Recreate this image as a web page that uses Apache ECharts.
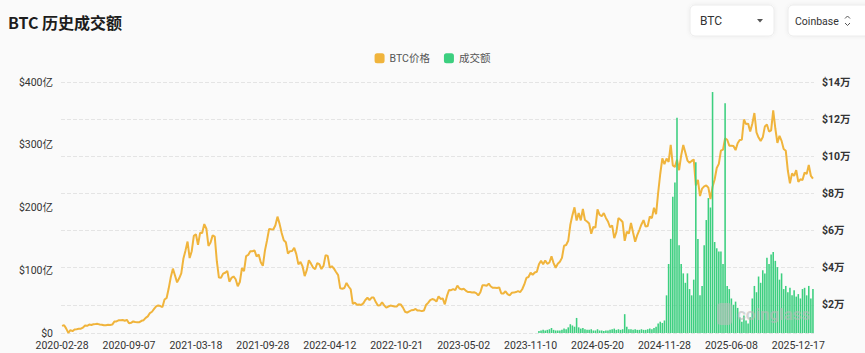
<!DOCTYPE html>
<html><head><meta charset="utf-8">
<script src="https://cdn.jsdelivr.net/npm/echarts@6/dist/echarts.min.js"></script>
<style>html,body{margin:0;padding:0;background:#fafafa}#c{width:865px;height:353px}</style>
</head><body><div id="c"></div>
<script>
// x-axis tick labels (shown dates)
const tickLabels = ['2020-02-28','2020-09-07','2021-03-18','2021-09-28','2022-04-12','2022-10-21',
  '2023-05-02','2023-11-10','2024-05-20','2024-11-28','2025-06-08','2025-12-17'];
const stepDays = 6, stepsPerTick = 32, tailSteps = 8;

// BTC price (USD), one value every 6 days from 2020-02-28
const btcPrice = [
  8690, 9080, 7200, 4900, 6400, 5880, 6740, 6870, 7100, 7140, 7760, 8900, 8750, 9380, 9170, 9580,
  9660, 9780, 9440, 9300, 9010, 9070, 9250, 9200, 9390, 11000, 11100, 11680, 11780, 11860, 11470, 11920,
  10130, 10330, 11080, 10740, 10620, 10670, 11420, 11750, 13030, 13800, 15590, 16300, 17800, 19160, 19700, 19360,
  18800, 22840, 23730, 28900, 35000, 39500, 35800, 32100, 34300, 36900, 44800, 49200, 54100, 45200, 48900, 57200,
  58000, 52300, 58800, 58700, 63500, 61000, 51700, 53600, 57400, 56700, 43500, 34700, 34600, 36800, 37300, 38300,
  32500, 34500, 35300, 33800, 30000, 32300, 39800, 38200, 46300, 46900, 48900, 48900, 49300, 46100, 47100, 43000,
  41000, 49200, 54700, 60900, 60700, 60600, 62900, 67500, 63600, 58700, 54800, 53700, 47600, 48900, 49000, 50700,
  47300, 41800, 43100, 40700, 35500, 38700, 44000, 42200, 40100, 39200, 42500, 41900, 39300, 41000, 46800, 46400,
  40100, 40800, 39500, 37700, 36000, 28900, 28700, 29100, 31800, 29900, 28400, 20500, 21200, 20100, 20200, 19900,
  20800, 22600, 23800, 22600, 23900, 23900, 21500, 19600, 19800, 21400, 19700, 18500, 19100, 19600, 19400, 19100,
  19160, 20300, 20150, 18500, 16300, 15800, 16450, 17100, 17220, 17800, 16900, 16900, 16620, 16950, 19900, 21100,
  22600, 23130, 22760, 21800, 24600, 23200, 23500, 20300, 24700, 28000, 27900, 28450, 27900, 30400, 28800, 28300,
  28700, 27700, 26900, 26900, 26700, 26800, 26350, 25100, 26800, 30500, 30600, 30300, 31400, 29900, 29200, 29200,
  29100, 29400, 26100, 26150, 27300, 25800, 25100, 26500, 26600, 26900, 27400, 26900, 28400, 31000, 34500, 35000,
  37300, 36200, 37400, 37800, 41900, 43700, 41900, 43900, 42100, 42800, 46100, 42500, 40000, 42100, 43200, 45300,
  51800, 52200, 54500, 63100, 68300, 72500, 65400, 69500, 65500, 71600, 65700, 64900, 63800, 58300, 62000, 61600,
  71400, 68500, 67700, 69400, 66800, 64900, 61800, 62800, 55900, 59200, 66700, 65800, 64600, 54500, 59400, 58400,
  64100, 59000, 54000, 57600, 60300, 63300, 65600, 62100, 62500, 67600, 66700, 72300, 68800, 80400, 90600, 98900,
  95700, 98800, 97000, 106100, 95100, 94300, 98100, 92500, 100500, 106100, 102000, 97700, 96500, 97500, 98300, 84300,
  87300, 78600, 82600, 83800, 84300, 83100, 77000, 83600, 87500, 93700, 95900, 103000, 103600, 109700, 108900, 105700,
  105700, 105500, 103300, 107000, 108800, 108900, 119800, 117300, 117600, 113300, 117500, 123300, 112900, 110100, 108300, 110200,
  116000, 117100, 113300, 114000, 124700, 115100, 107200, 111000, 108300, 103900, 103000, 92200, 85500, 90800, 89500, 92500,
  86200, 87600, 87200, 91200, 90500, 95300, 89500, 88000
];

// Trading volume (亿 USD), one value every 6 days from 2023-12-04
const volumeStartDate = '2023-12-04';
const volumeYi = [
  3, 4, 5, 4, 5, 6, 8, 5, 4, 4, 4, 5,
  7, 6, 9, 14, 12, 10, 24, 9, 7, 8, 6, 5,
  5, 6, 4, 4, 6, 4, 4, 3, 4, 4, 5, 6,
  7, 5, 6, 5, 6, 30, 10, 6, 6, 5, 6, 5,
  5, 6, 5, 5, 6, 7, 6, 8, 10, 15, 18, 16,
  20, 60, 110, 150, 217, 240, 343, 140, 110, 95, 80, 95,
  70, 60, 85, 272, 150, 60, 75, 140, 180, 215, 200, 384,
  145, 135, 130, 130, 110, 366, 75, 70, 55, 45, 50, 40,
  25, 18, 28, 20, 15, 25, 55, 75, 65, 90, 80, 100,
  95, 120, 110, 125, 129, 115, 105, 85, 95, 70, 75, 65,
  72, 60, 68, 58, 62, 55, 70, 72, 60, 75, 55, 70
];

function addDays(s, n) {
  const d = new Date(s + 'T00:00:00Z');
  d.setUTCDate(d.getUTCDate() + n);
  return d.toISOString().slice(0, 10);
}
const categories = [];
for (let i = 0; i < tickLabels.length - 1; i++)
  for (let j = 0; j < stepsPerTick; j++) categories.push(addDays(tickLabels[i], j * stepDays));
for (let j = 0; j < tailSteps; j++) categories.push(addDays(tickLabels[tickLabels.length - 1], j * stepDays));

const volStart = categories.indexOf(volumeStartDate);
const volumeData = categories.map((_, i) => i < volStart ? null : volumeYi[i - volStart]);

const FONT = "Roboto, 'Noto Sans CJK SC', sans-serif";
const chart = echarts.init(document.getElementById('c'), null, { renderer: 'svg' });
chart.setOption({
  animation: false,
  backgroundColor: '#fafafa',
  textStyle: { fontFamily: FONT },
  title: {
    text: 'BTC 历史成交额', left: 3, top: 9,
    textStyle: { fontSize: 16, fontWeight: 'bold', color: '#1d1d1d', fontFamily: "'Noto Sans CJK SC', sans-serif" }
  },
  legend: {
    data: ['BTC价格', '成交额'], top: 48, left: 'center',
    itemWidth: 10, itemHeight: 10, itemGap: 14, icon: 'roundRect',
    textStyle: { color: '#555', fontSize: 10.5, fontFamily: FONT }
  },
  grid: { left: 61, right: 51, top: 82, bottom: 20 },
  xAxis: {
    type: 'category', data: categories,
    axisLine: { show: false }, axisTick: { show: false },
    axisLabel: {
      interval: (idx) => tickLabels.includes(categories[idx]),
      color: '#333', fontSize: 10.5, margin: 7
    }
  },
  yAxis: [
    {
      type: 'value', position: 'left', min: 0, max: 400, interval: 100,
      splitLine: { show: false }, axisLine: { show: false }, axisTick: { show: false },
      axisLabel: { color: '#333', fontSize: 10.5, formatter: v => v === 0 ? '$0' : '$' + v + '亿' }
    },
    {
      type: 'value', position: 'right', min: 4850, max: 140000, splitNumber: 7,
      axisLine: { show: false }, axisTick: { show: false },
      splitLine: { show: true, lineStyle: { type: 'dashed', color: '#e4e4e4' } },
      axisLabel: { color: '#333', fontSize: 10.5, fontWeight: 'bold',
        formatter: v => v % 20000 === 0 ? '$' + (v / 10000) + '万' : '' }
    }
  ],
  series: [
    {
      name: 'BTC价格', type: 'line', yAxisIndex: 1, data: btcPrice,
      showSymbol: false, symbol: 'none',
      lineStyle: { width: 2, color: '#f0b43c' }, itemStyle: { color: '#f0b43c' }, z: 2
    },
    {
      name: '成交额', type: 'bar', yAxisIndex: 0, data: volumeData,
      barCategoryGap: '25%', itemStyle: { color: '#3ccf7f' }, z: 3
    }
  ],
  graphic: [
    { type: 'rect', shape: { x: 690, y: 5, width: 84, height: 31, r: 5 },
      style: { fill: '#fff', stroke: '#ececec', lineWidth: 1, shadowBlur: 4, shadowColor: 'rgba(0,0,0,0.06)' } },
    { type: 'text', x: 700, y: 21, style: { text: 'BTC', fill: '#333', font: "12px " + FONT, textVerticalAlign: 'middle' } },
    { type: 'polygon', shape: { points: [[757, 19], [763, 19], [760, 22.5]] }, style: { fill: '#555' } },
    { type: 'rect', shape: { x: 788, y: 5, width: 90, height: 31, r: 5 },
      style: { fill: '#fff', stroke: '#ececec', lineWidth: 1, shadowBlur: 4, shadowColor: 'rgba(0,0,0,0.06)' } },
    { type: 'text', x: 795, y: 21, style: { text: 'Coinbase', fill: '#333', font: "10.5px " + FONT, textVerticalAlign: 'middle' } },
    { type: 'polyline', shape: { points: [[845, 18.5], [847.5, 16], [850, 18.5]] }, style: { stroke: '#555', lineWidth: 1, fill: null } },
    { type: 'polyline', shape: { points: [[845, 23], [847.5, 25.5], [850, 23]] }, style: { stroke: '#555', lineWidth: 1, fill: null } },
    { type: 'rect', z: 10, shape: { x: 717, y: 303, width: 15, height: 22, r: 4 },
      style: { fill: 'rgba(190,190,190,0.55)' } },
    { type: 'text', z: 10, x: 737, y: 314, style: { text: 'coinglass', fill: 'rgba(185,185,185,0.6)', font: "bold 17px " + FONT, textVerticalAlign: 'middle' } }
  ]
});
</script>
</body></html>
